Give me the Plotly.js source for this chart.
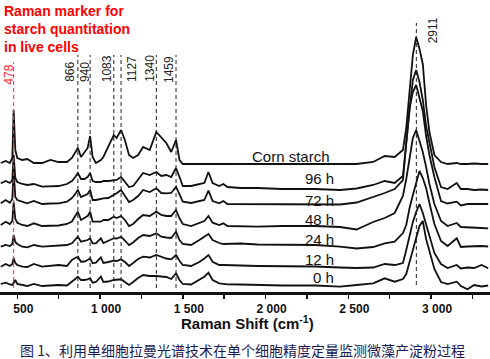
<!DOCTYPE html>
<html><head><meta charset="utf-8">
<script src="https://cdn.plot.ly/plotly-3.0.1.min.js"></script>
<style>html,body{margin:0;padding:0;background:#fff}#chart{width:490px;height:359px}</style>
</head><body><div id="chart"></div>
<script>
// Raman shift grid (cm-1)
const wavenumbers = [400,430,455,470,478,488,500,530,560,600,650,700,750,800,830,850,866,885,905,925,940,955,975,1005,1020,1050,1083,1100,1127,1150,1175,1200,1230,1260,1300,1340,1370,1400,1430,1459,1480,1500,1550,1600,1630,1655,1680,1720,1745,1770,1850,1950,2100,2300,2450,2550,2650,2720,2780,2830,2850,2870,2890,2910,2930,2950,2970,2990,3020,3060,3100,3155,3180,3220,3260,3305,3345];

// Relative intensities
const cornStarch = [1,3,1,6,54,14,6,4,5,1, 1,4,2,2,6,12,16,7,11,16, 28,7,1,4,7,17,29,26,34,24, 9,6,9,17,14,32,26,21,12,24, 4,0,0,0,0,0,0,0,0,0, 0,0.5,0,0,0,0,2,8,7,14, 36,74,109,127,115,100,59,32,9,2, 0,1,0,0,0.5,0,0];
const h96 = [6.7,9,7,10,35,12,8,6,5,6, 3.3,3.3,4,6,9,13,17,11,11,13, 17,9,8,8,9,9,10,10,13,8, 3,4,10,17,15,18,14,15,13,22, 13,4,4,6,7,18,7,4,6,3, 2,2,1,1,0,1.5,5,9,7,14, 50,80,110,120,108,90,64,47,23,3, 1,7,1,1,0,0.5,0];
const h72 = [0.7,4,1.3,5,34,7,4,2,0.7,3, 0,0.5,0.7,2.3,6,10,14,7,8.5,10, 14,4,4,5.5,5.7,6,9,10.7,14,8, 2,4,8,14,12,15.7,11,10.7,11,17.3, 9,2.3,1,2.5,4,13.3,3,0.7,3,0, 0,0,0,0,-0.5,1.5,7,11,15,24, 61,96,112,119,106,93,68,49,27,3, 0.5,2.3,-1.5,0,0,0,0];
const h48 = [3,6.3,4,7,26,9,5.3,3,2,4.7, 2,2,2.5,4,6.5,12,16.3,8,9.7,12, 16.3,6.3,6.3,6.3,8,8,11.3,10,12,8, 2,4,9,13,12,16.3,13,12,12,18, 9.7,4,2,4.7,7,12,5.3,3,4.7,2, 1.5,1.3,2,2,1,-1.5,6,10,15,32, 49,72,90,98,87,76,61,44,24,7, 2,5,1,0.5,0,0,-0.3];
const h24 = [0.3,2,1,3,12,5,3,0.3,-0.3,2, 0.3,1,1,2,3.7,7,10.3,5.3,6.3,7, 8.7,3.7,3.7,8.7,4,6.5,8.7,8.5,10.3,6.5, 2,4.5,9,12,11,13.7,10.3,9.5,9,15.3, 7,3,2,7,10.3,13,7,4,3,3, 3.5,2.5,2,2,0.3,-1.5,0,3.7,5.3,14, 22,39,52,64,76,69,59,44,23,6, 1,8.7,0,0.5,1,1,0.5];
const h12 = [1.3,4,2,4,10,5,3,1.3,1,4, 1.3,2,3,2,8,10,11.3,6.3,6.5,8, 9.7,4.7,5.3,10.7,5,6,7.3,7,8.7,6, 2,5,9,11.3,10.5,13,11.3,9.5,8.7,13, 7.3,3,2,6,9.5,13,6.3,3,3,3, 2.5,2,2,1.5,0.5,0,0.5,4,3,5, 18,33,46,56,64,55,43,31,15,4, 0,3,-0.5,0.5,0,3,-0.3];
const h0 = [3,4.3,2.5,2,4,7,3,2,1,3, 1,1.5,2,1.5,5,8,10.3,7,7,7.5, 8.7,4.3,5,10.3,5,5.5,7,7,7.7,5, 2,5,9,12,11,11,10.3,10,8,13.7, 7,3,2.5,7,10.3,14.3,7,3.7,3,2.7, 2.5,2,1.5,1.5,0.3,2,3.7,8.7,5.3,8, 13,25,38,51,61,66,48,36,18,5, 3,5.3,1,-2.3,2,0.5,1.5];

const seriesNames = ['Corn starch','96 h','72 h','48 h','24 h','12 h','0 h'];
const seriesValues = [cornStarch, h96, h72, h48, h24, h12, h0];
const seriesOffsets = [128, 102, 88, 64, 45, 24, 5];

const peakPositions = [478, 866, 940, 1083, 1127, 1340, 1459, 2911];
const tickValues = [500, 1000, 1500, 2000, 2500, 3000];
const tickLabels = ['500', '1 000', '1 500', '2 000', '2 500', '3 000'];
const minorTickValues = [750, 1250, 1750, 2250, 2750, 3250];

const markerNote = 'Raman marker for<br>starch quantitation<br>in live cells';
const xTitle = 'Raman Shift (cm<sup>-1</sup>)';
const caption = '图 1、利用单细胞拉曼光谱技术在单个细胞精度定量监测微藻产淀粉过程';

const FONT = 'Liberation Sans, Arial, sans-serif';
const PLOT_H = 292;
const py = p => (PLOT_H - p) / PLOT_H; // pixel row -> paper y

const traces = seriesValues.map((vals, i) => ({
  type: 'scatter', mode: 'lines', name: seriesNames[i],
  x: wavenumbers, y: vals.map(v => v + seriesOffsets[i]),
  line: {color: '#111', width: 1.8}, hoverinfo: 'skip'
}));

// label layout (style/placement)
const peakStyle = {
  478: {shift: -5, bottom: 205, color: '#ff2a2a'},
  866: {shift: -8, bottom: 208}, 940: {shift: -5, bottom: 208},
  1083: {shift: -7, bottom: 208}, 1127: {shift: 11, bottom: 208},
  1340: {shift: -7, bottom: 208}, 1459: {shift: -7.5, bottom: 207},
  2911: {shift: 17, bottom: 247}
};
const shapes = peakPositions.map(p => {
  const red = p === 478, ch = p === 2911;
  return {type: 'line', xref: 'x', yref: 'y', x0: p, x1: p,
    y0: ch ? 7 : 4, y1: red ? 230 : (ch ? 269 : 237),
    line: {color: red ? '#ff3030' : '#222', width: 1, dash: '4px,3px'}, layer: 'above'};
});
const annotations = peakPositions.map(p => ({
  xref: 'x', yref: 'y', x: p, xshift: peakStyle[p].shift, y: peakStyle[p].bottom,
  text: String(p), textangle: -90, showarrow: false, xanchor: 'center', yanchor: 'bottom',
  font: {family: FONT, size: 12, color: peakStyle[p].color || '#222'}
}));

const labelPos = [
  {x: 2154, y: 136, anchor: 'center'},
  {x: 2426, y: 113.7, anchor: 'right'}, {x: 2426, y: 92, anchor: 'right'},
  {x: 2426, y: 73, anchor: 'right'}, {x: 2426, y: 53, anchor: 'right'},
  {x: 2426, y: 33, anchor: 'right'}, {x: 2426, y: 14.3, anchor: 'right'}
];
seriesNames.forEach((n, i) => annotations.push({
  xref: 'x', yref: 'y', x: labelPos[i].x, y: labelPos[i].y, text: n, showarrow: false,
  xanchor: labelPos[i].anchor, yanchor: 'middle', font: {family: FONT, size: 15, color: '#111'}
}));
annotations.push({xref: 'paper', yref: 'paper', x: 2/490, y: py(1), xanchor: 'left', yanchor: 'top', align: 'left',
  text: '<b>' + markerNote + '</b>', showarrow: false, font: {family: FONT, size: 14, color: '#ff0000'}});
annotations.push({xref: 'paper', yref: 'paper', x: 247/490, y: py(322), xanchor: 'center', yanchor: 'middle',
  text: '<b>' + xTitle + '</b>', showarrow: false, font: {family: FONT, size: 15, color: '#111'}});
annotations.push({xref: 'paper', yref: 'paper', x: 18/490, y: py(350), xanchor: 'left', yanchor: 'middle',
  text: caption, showarrow: false, font: {family: 'Noto Sans CJK SC, sans-serif', size: 14, color: '#1a1a55'}});

const layout = {
  width: 490, height: 359, margin: {l: 0, r: 0, t: 0, b: 359 - PLOT_H},
  paper_bgcolor: '#fff', plot_bgcolor: '#fff', showlegend: false,
  font: {family: FONT, color: '#111'},
  xaxis: {range: [395.5, 3356], showline: true, linewidth: 2.5, linecolor: '#111',
    ticks: 'outside', ticklen: 4, tickwidth: 1.5, tickcolor: '#111',
    tickmode: 'array', tickvals: tickValues, ticktext: tickLabels.map(t => '<b>' + t + '</b>'),
    tickfont: {family: FONT, size: 12, color: '#111'}, ticklabelshift: 6,
    minor: {tickmode: 'array', tickvals: minorTickValues, ticks: 'outside', ticklen: 4, tickwidth: 1.5, tickcolor: '#111', showgrid: false},
    showgrid: false, zeroline: false, fixedrange: true},
  yaxis: {visible: false, range: [0, PLOT_H], showgrid: false, zeroline: false, fixedrange: true},
  shapes: shapes, annotations: annotations
};
Plotly.newPlot('chart', traces, layout, {staticPlot: true, displayModeBar: false});
</script></body></html>
